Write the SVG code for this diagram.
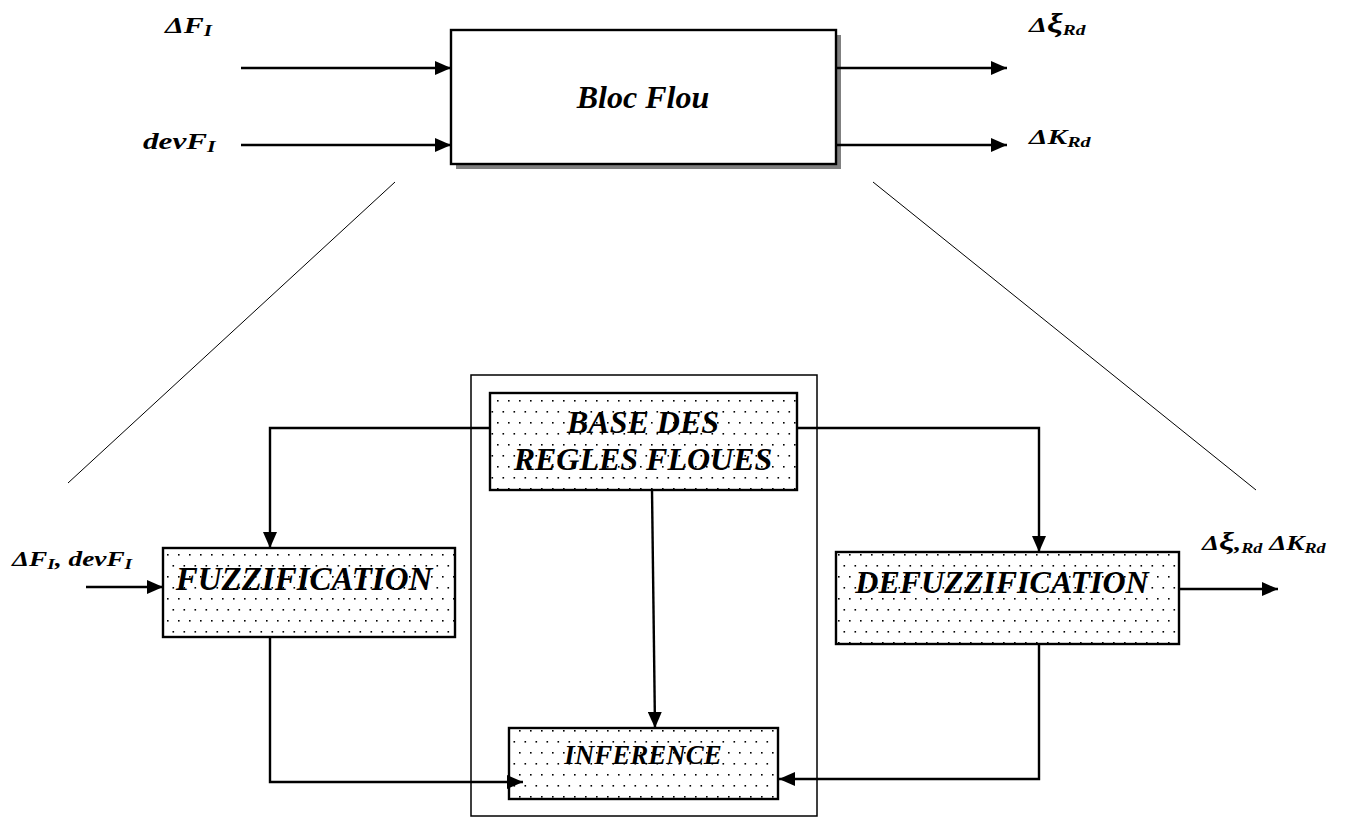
<svg xmlns="http://www.w3.org/2000/svg" width="1345" height="817" viewBox="0 0 1345 817">
  <style>
    .lbl { font-family: "Liberation Serif", "Times New Roman", serif; font-weight: bold; font-style: italic; fill: #000; }
    .box { fill: url(#dots); stroke: #000; stroke-width: 2.4; }
    .wire { fill: none; stroke: #000; stroke-width: 2.4; }
    .thin { fill: none; stroke: #000; stroke-width: 1; }
  </style>
  <defs>
    <pattern id="dots" x="0" y="0" width="11" height="22" patternUnits="userSpaceOnUse">
      <rect width="11" height="22" fill="#fff"/>
      <rect x="2" y="4" width="1.6" height="1.6" fill="#000"/>
      <rect x="7.5" y="15" width="1.6" height="1.6" fill="#000"/>
    </pattern>
    <marker id="arr" viewBox="0 0 16 14" refX="16" refY="7" markerWidth="16" markerHeight="14" markerUnits="userSpaceOnUse" orient="auto">
      <path d="M0,0 L16,7 L0,14 Z" fill="#000"/>
    </marker>
  </defs>

  <rect width="1345" height="817" fill="#fff"/>

  <!-- top-level fuzzy block -->
  <g id="bloc-flou">
    <rect x="456" y="35" width="385" height="134" fill="#808080"/>
    <rect x="451" y="30" width="385" height="134" fill="#fff" stroke="#000" stroke-width="2.4"/>
    <text class="lbl" x="643" y="108" font-size="32" text-anchor="middle">Bloc Flou</text>
  </g>

  <!-- signal names (set wide, like the original typesetting) -->
  <g id="in-labels">
    <text class="lbl" transform="translate(165,33) scale(1.25,1)" font-size="24">ΔF<tspan font-size="17" dy="3">I</tspan></text>
    <text class="lbl" transform="translate(143,149) scale(1.3,1)" font-size="24">devF<tspan font-size="17" dy="3">I</tspan></text>
  </g>
  <g id="out-labels">
    <text class="lbl" transform="translate(1029,32) scale(1.3,1)" font-size="22">Δ<tspan font-size="27">ξ</tspan><tspan font-size="15" dy="3">Rd</tspan></text>
    <text class="lbl" transform="translate(1029,144) scale(1.34,1)" font-size="22">ΔK<tspan font-size="15" dy="3">Rd</tspan></text>
  </g>

  <!-- expanded internal structure -->
  <g id="container">
    <rect x="471" y="375" width="346" height="441" fill="none" stroke="#000" stroke-width="1.5"/>
  </g>

  <g id="base-regles">
    <rect class="box" x="490" y="393" width="307" height="97"/>
    <text class="lbl" x="643" y="433" font-size="32" text-anchor="middle">BASE DES</text>
    <text class="lbl" x="643" y="470" font-size="32" text-anchor="middle">REGLES FLOUES</text>
  </g>

  <g id="fuzzification">
    <rect class="box" x="163" y="548" width="292" height="89"/>
    <text class="lbl" x="304" y="590" font-size="33" text-anchor="middle">FUZZIFICATION</text>
  </g>

  <g id="defuzzification">
    <rect class="box" x="836" y="552" width="343" height="92"/>
    <text class="lbl" x="1002" y="593" font-size="32" text-anchor="middle">DEFUZZIFICATION</text>
  </g>

  <g id="inference">
    <rect class="box" x="509" y="728" width="269" height="71"/>
    <text class="lbl" x="643" y="764" font-size="27" text-anchor="middle">INFERENCE</text>
  </g>

  <g id="io-labels">
    <text class="lbl" transform="translate(12,566) scale(1.3,1)" font-size="21">ΔF<tspan font-size="15" dy="3">I</tspan><tspan dy="-3">, devF</tspan><tspan font-size="15" dy="3">I</tspan></text>
    <text class="lbl" transform="translate(1202,550) scale(1.3,1)" font-size="21">Δ<tspan font-size="26">ξ</tspan>,<tspan font-size="14" dy="3">Rd</tspan><tspan dy="-3"> ΔK</tspan><tspan font-size="14" dy="3">Rd</tspan></text>
  </g>

  <g id="connectors">
    <!-- top block inputs / outputs -->
    <line class="wire" x1="241" y1="68" x2="451" y2="68" stroke-width="2.8" marker-end="url(#arr)"/>
    <line class="wire" x1="241" y1="145" x2="451" y2="145" stroke-width="2.8" marker-end="url(#arr)"/>
    <line class="wire" x1="836" y1="68" x2="1007" y2="68" stroke-width="2.8" marker-end="url(#arr)"/>
    <line class="wire" x1="836" y1="145" x2="1007" y2="145" stroke-width="2.8" marker-end="url(#arr)"/>

    <!-- zoom lines -->
    <line class="thin" x1="395" y1="182" x2="68" y2="483"/>
    <line class="thin" x1="873" y1="182" x2="1256" y2="490"/>

    <!-- rule base feeds -->
    <polyline class="wire" points="490,428 270,428 270,548" marker-end="url(#arr)"/>
    <polyline class="wire" points="797,428 1039,428 1039,552" marker-end="url(#arr)"/>
    <line class="wire" x1="652" y1="490" x2="655" y2="728" marker-end="url(#arr)"/>

    <!-- fuzzification to inference -->
    <polyline class="wire" points="270,637 270,782 523,782" marker-end="url(#arr)"/>
    <!-- defuzzification to inference -->
    <polyline class="wire" points="1039,644 1039,779 779,779" marker-end="url(#arr)"/>

    <!-- external input / output -->
    <line class="wire" x1="86" y1="587" x2="163" y2="587" marker-end="url(#arr)"/>
    <line class="wire" x1="1179" y1="589" x2="1278" y2="589" marker-end="url(#arr)"/>
  </g>
</svg>
